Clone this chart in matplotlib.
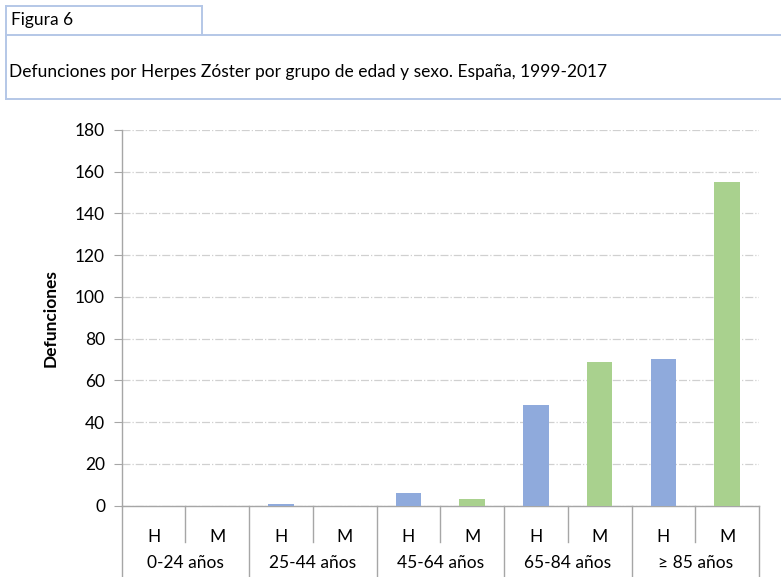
import matplotlib
matplotlib.use('Agg')
import matplotlib.pyplot as plt
from matplotlib.lines import Line2D

# Data
grupos = ['0-24 años', '25-44 años', '45-64 años', '65-84 años', '≥ 85 años']
sexos = ['H', 'M']
hombres = [0, 0.5, 6, 48, 70]
mujeres = [0, 0, 3, 69, 155]
y_ticks = [0, 20, 40, 60, 80, 100, 120, 140, 160, 180]

plt.rcParams['font.family'] = ['Lato', 'DejaVu Sans']

W, H = 781, 577
fig = plt.figure(figsize=(W / 100, H / 100), dpi=100)

# Header boxes
border = '#b4c7e7'
def fline(x0, y0, x1, y1):
    fig.add_artist(Line2D([x0 / W, x1 / W], [1 - y0 / H, 1 - y1 / H],
                          color=border, linewidth=1.4))

fline(6, 5.5, 202, 5.5)
fline(6, 5.5, 6, 99)
fline(202, 5.5, 202, 34.5)
fline(6, 34.5, W, 34.5)
fline(6, 99, W, 99)
fig.text(11 / W, 1 - 20 / H, 'Figura 6', fontsize=12.5, va='center', ha='left')
fig.text(9 / W, 1 - 72 / H,
         'Defunciones por Herpes Zóster por grupo de edad y sexo. España, 1999-2017',
         fontsize=12.5, va='center', ha='left')

# Chart
left, right, top, bottom = 121.7, 759, 130, 505.5
ax = fig.add_axes([left / W, 1 - bottom / H, (right - left) / W, (bottom - top) / H])

xh = [2 * i for i in range(len(grupos))]
xm = [2 * i + 1 for i in range(len(grupos))]
ax.bar(xh, hombres, width=0.4, color='#8faadc', zorder=3)
ax.bar(xm, mujeres, width=0.4, color='#a9d18e', zorder=3)

ax.set_xlim(-0.5, 2 * len(grupos) - 0.5)
ax.set_ylim(0, 180)
ax.set_yticks(y_ticks)
ax.tick_params(axis='y', length=6, color='#a6a6a6', labelsize=12.5, pad=6)
ax.tick_params(axis='x', length=0, labelbottom=False)
ax.grid(axis='y', color='#d0d0d0', linestyle='-.', linewidth=0.9, zorder=0)

for s in ['top', 'right']:
    ax.spines[s].set_visible(False)
for s in ['left', 'bottom']:
    ax.spines[s].set_color('#a6a6a6')
    ax.spines[s].set_linewidth(1.0)

ax.set_ylabel('Defunciones', fontsize=12.5, fontweight='bold', labelpad=12)

# Category table below the axis
tr = ax.get_xaxis_transform()
n = 2 * len(grupos)
for k in range(n + 1):
    x = k - 0.5
    yb = -0.19 if k % 2 == 0 else -0.097
    ax.add_line(Line2D([x, x], [0, yb], transform=tr, color='#a6a6a6',
                       linewidth=1.0, clip_on=False))
for k in range(n):
    ax.text(k, -0.084, sexos[k % 2], transform=tr, ha='center', va='center',
            fontsize=12.5)
for i, g in enumerate(grupos):
    ax.text(2 * i + 0.5, -0.153, g, transform=tr, ha='center', va='center',
            fontsize=12.5)

fig.savefig('out.png', dpi=100)
